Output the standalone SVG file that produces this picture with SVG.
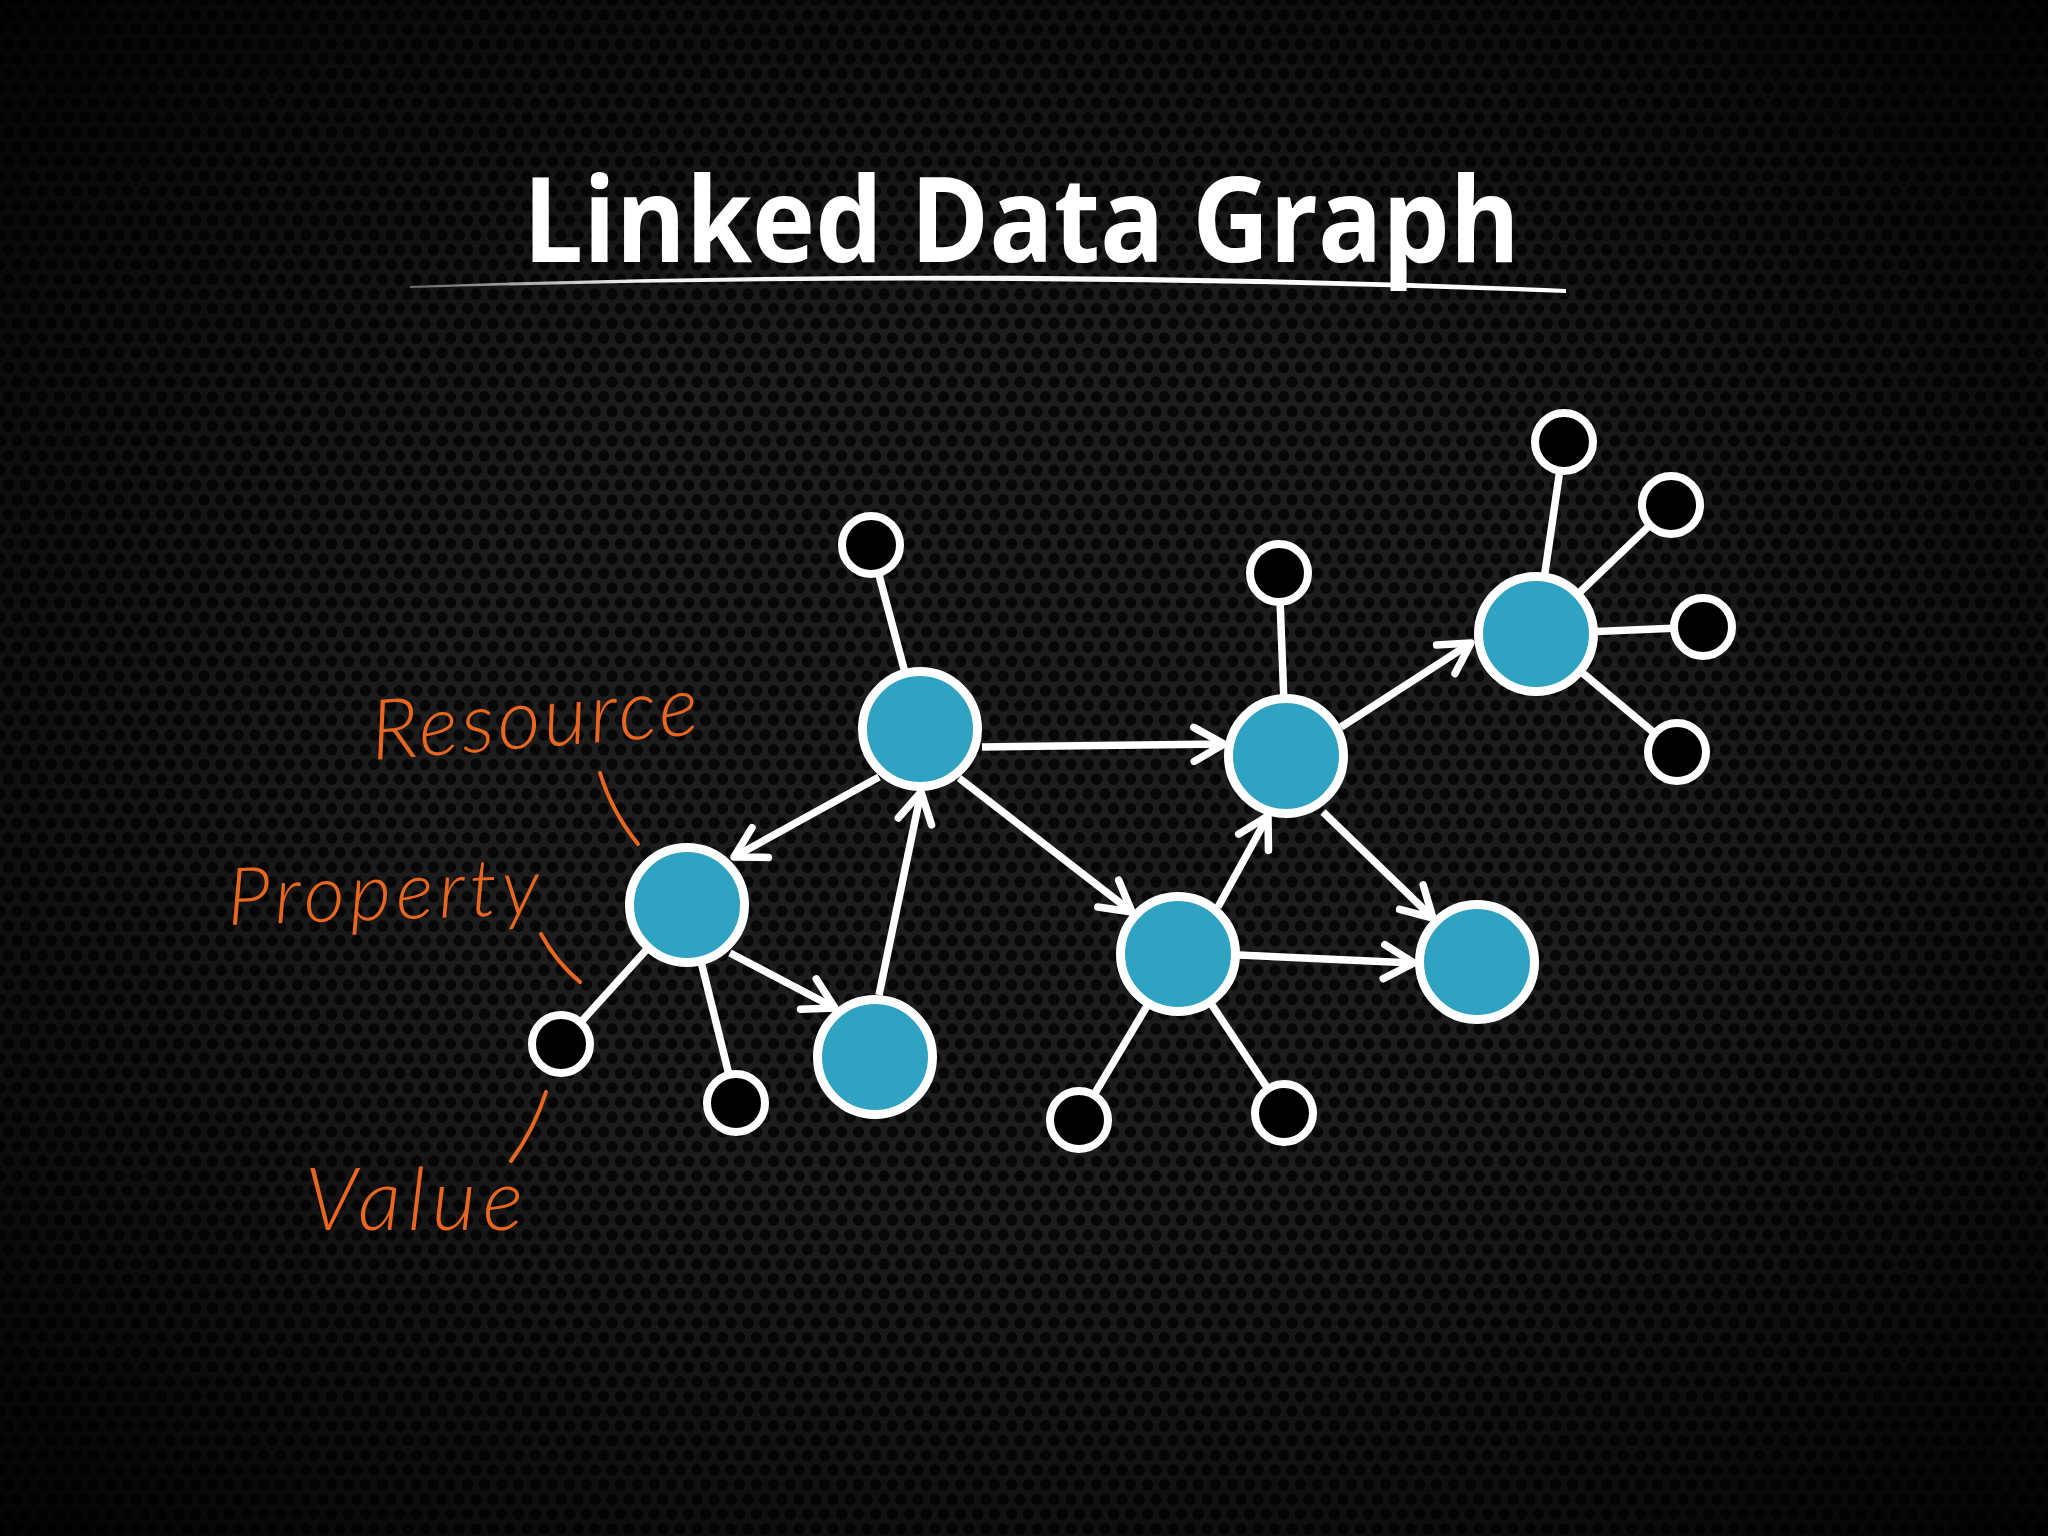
<svg xmlns="http://www.w3.org/2000/svg" width="2048" height="1536" viewBox="0 0 2048 1536">
  <defs>
    <pattern id="hex" width="17" height="29.4" patternUnits="userSpaceOnUse">
      <rect width="17" height="29.4" fill="#1d1d1d"/>
      <g fill="#070707">
        <circle cx="0" cy="0" r="5.8"/>
        <circle cx="17" cy="0" r="5.8"/>
        <circle cx="0" cy="29.4" r="5.8"/>
        <circle cx="17" cy="29.4" r="5.8"/>
        <circle cx="8.5" cy="14.7" r="5.8"/>
      </g>
    </pattern>
    <radialGradient id="vig" cx="50%" cy="50%" r="72%">
      <stop offset="0.4" stop-color="#000" stop-opacity="0"/>
      <stop offset="1" stop-color="#000" stop-opacity="0.92"/>
    </radialGradient>
    <linearGradient id="swoosh" x1="410" y1="0" x2="1566" y2="0" gradientUnits="userSpaceOnUse">
      <stop offset="0" stop-color="#ffffff" stop-opacity="0.35"/>
      <stop offset="0.2" stop-color="#ffffff" stop-opacity="0.95"/>
      <stop offset="1" stop-color="#ffffff"/>
    </linearGradient>
    <marker id="arrow" markerUnits="userSpaceOnUse" markerWidth="44" markerHeight="44" viewBox="-36 -22 44 44" refX="0" refY="0" orient="auto" overflow="visible">
      <path d="M -30,-17 L 0,0 L -30,17" fill="none" stroke="#ffffff" stroke-width="7.5" stroke-linecap="round" stroke-linejoin="round"/>
    </marker>
    <style>
      .edge { stroke: #ffffff; stroke-width: 7.5; fill: none; }
      .arr { stroke: #ffffff; stroke-width: 7.5; fill: none; marker-end: url(#arrow); }
      .res { fill: #2fa3c1; stroke: #ffffff; stroke-width: 9; }
      .val { fill: #000000; stroke: #ffffff; stroke-width: 8; }
      .note { fill: #e8661f; font-family: Lato, "Open Sans", "DejaVu Sans", sans-serif; font-style: italic; font-weight: 300; }
      .lead { stroke: #e8661f; stroke-width: 4; fill: none; stroke-linecap: round; }
      .title { fill: #ffffff; font-family: "Open Sans", "Noto Sans", "Liberation Sans", sans-serif; font-weight: 700; font-size: 118px; }
    </style>
  </defs>

  <rect width="2048" height="1536" fill="url(#hex)"/>
  <rect width="2048" height="1536" fill="url(#vig)"/>

  <g id="title">
    <text class="title" x="523" y="262" textLength="997" lengthAdjust="spacingAndGlyphs">Linked Data Graph</text>
    <path d="M 410 286 Q 985 264 1566 289 L 1566 293 Q 985 271 410 288 Z" fill="url(#swoosh)"/>
  </g>

  <g id="connectors">
    <line class="edge" x1="920" y1="729" x2="871" y2="545"/>
    <line class="edge" x1="687" y1="905" x2="561" y2="1044"/>
    <line class="edge" x1="687" y1="905" x2="736" y2="1103"/>
    <line class="edge" x1="1178" y1="954" x2="1079" y2="1120"/>
    <line class="edge" x1="1178" y1="954" x2="1284" y2="1113"/>
    <line class="edge" x1="1286" y1="756" x2="1279" y2="573"/>
    <line class="edge" x1="1536" y1="634" x2="1564" y2="442"/>
    <line class="edge" x1="1536" y1="634" x2="1671" y2="505"/>
    <line class="edge" x1="1536" y1="634" x2="1703" y2="627"/>
    <line class="edge" x1="1536" y1="634" x2="1677" y2="752"/>
    <line class="arr" x1="982" y1="747" x2="1224" y2="744"/>
    <line class="arr" x1="879" y1="777" x2="734" y2="857"/>
    <line class="arr" x1="879" y1="995" x2="921" y2="792"/>
    <line class="arr" x1="959" y1="778" x2="1132" y2="912"/>
    <line class="arr" x1="1218" y1="907" x2="1268" y2="816"/>
    <line class="arr" x1="1323" y1="812" x2="1433" y2="918"/>
    <line class="arr" x1="1239" y1="955" x2="1414" y2="963"/>
    <line class="arr" x1="730" y1="953" x2="835" y2="1008"/>
    <line class="arr" x1="1341" y1="727" x2="1471" y2="643"/>
  </g>

  <g id="node-a"><circle class="res" cx="687" cy="905" r="57.5"/></g>
  <g id="node-b"><circle class="res" cx="920" cy="729" r="57.5"/></g>
  <g id="node-c"><circle class="res" cx="875" cy="1057" r="57.5"/></g>
  <g id="node-d"><circle class="res" cx="1178" cy="954" r="57.5"/></g>
  <g id="node-e"><circle class="res" cx="1286" cy="756" r="57.5"/></g>
  <g id="node-f"><circle class="res" cx="1477" cy="962" r="57.5"/></g>
  <g id="node-g"><circle class="res" cx="1536" cy="634" r="57.5"/></g>

  <g id="value-1"><circle class="val" cx="871" cy="545" r="29"/></g>
  <g id="value-2"><circle class="val" cx="561" cy="1044" r="29"/></g>
  <g id="value-3"><circle class="val" cx="736" cy="1103" r="29"/></g>
  <g id="value-4"><circle class="val" cx="1079" cy="1120" r="29"/></g>
  <g id="value-5"><circle class="val" cx="1284" cy="1113" r="29"/></g>
  <g id="value-6"><circle class="val" cx="1279" cy="573" r="29"/></g>
  <g id="value-7"><circle class="val" cx="1564" cy="442" r="29"/></g>
  <g id="value-8"><circle class="val" cx="1671" cy="505" r="29"/></g>
  <g id="value-9"><circle class="val" cx="1703" cy="627" r="29"/></g>
  <g id="value-10"><circle class="val" cx="1677" cy="752" r="29"/></g>

  <g id="annotations">
    <text class="note" x="373" y="760" font-size="84" textLength="328" lengthAdjust="spacing" transform="rotate(-4.5 373 760)">Resource</text>
    <path class="lead" d="M 600 773 Q 612 812 638 844"/>
    <text class="note" x="228" y="925" font-size="80" textLength="312" lengthAdjust="spacing" transform="rotate(-2 228 925)">Property</text>
    <path class="lead" d="M 541 934 Q 556 962 580 982"/>
    <text class="note" x="305" y="1230" font-size="86" textLength="218" lengthAdjust="spacing">Value</text>
    <path class="lead" d="M 546 1092 Q 534 1130 511 1161"/>
  </g>
</svg>
